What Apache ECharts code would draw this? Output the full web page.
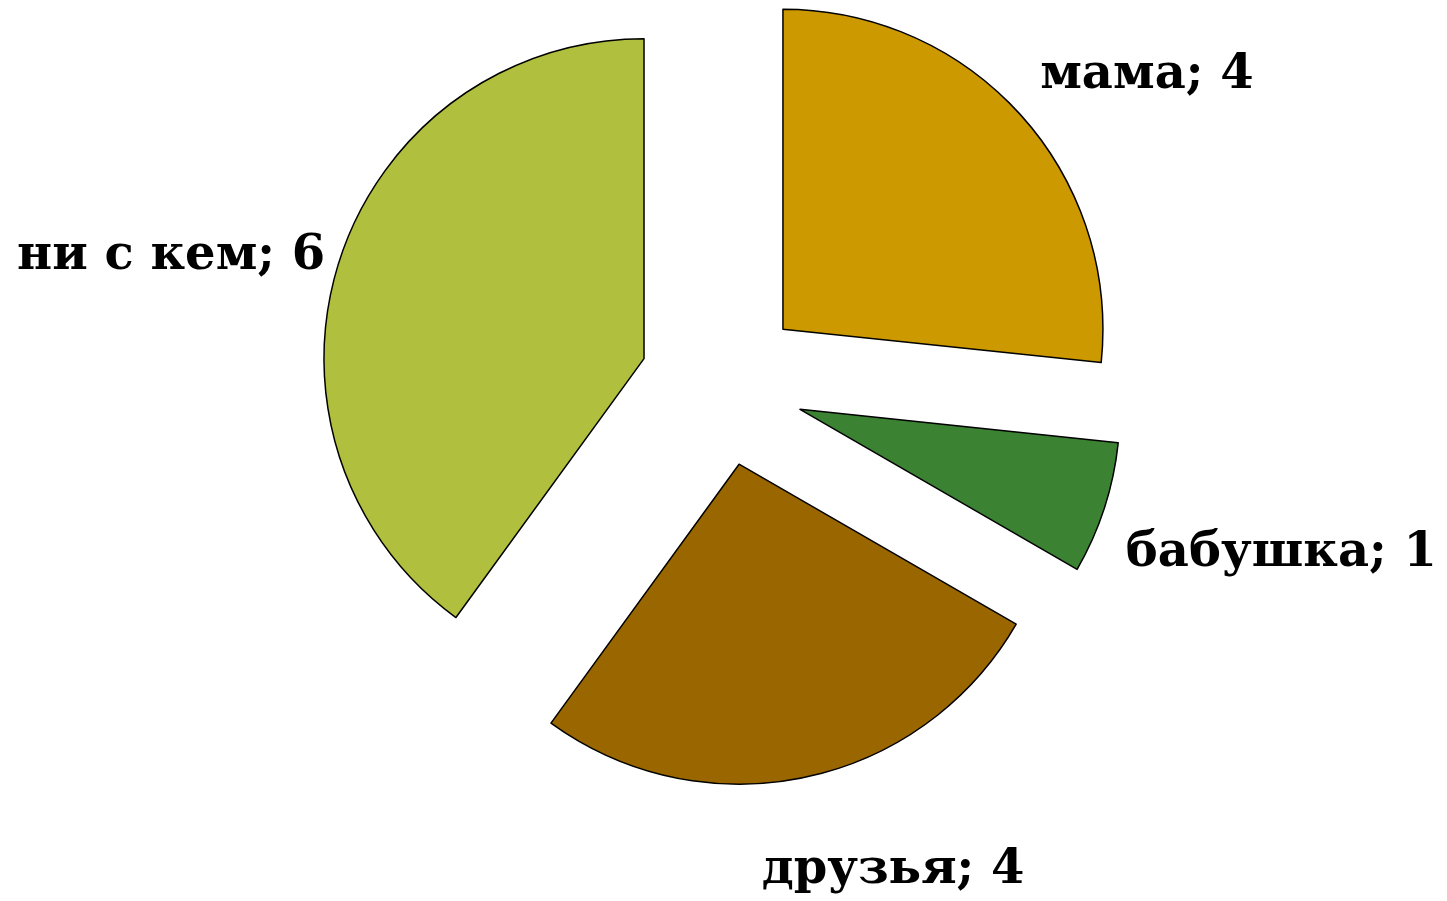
<!DOCTYPE html>
<html>
<head>
<meta charset="utf-8">
<script src="https://cdn.jsdelivr.net/npm/echarts@6/dist/echarts.min.js"></script>
<style>
  html, body { margin: 0; padding: 0; background: #fff; }
  #chart { width: 1447px; height: 901px; }
</style>
</head>
<body>
<div id="chart"></div>
<script>
// данные диаграммы
var categories = ['мама', 'бабушка', 'друзья', 'ни с кем'];
var values = [4, 1, 4, 6];
var colors = ['#CC9900', '#3C8233', '#996600', '#B0BF3D'];

var myChart = echarts.init(document.getElementById('chart'));

// сдвиг подписей относительно стандартного положения
var labelShift = [[7, -33], [7, 42], [-51, 84], [0, 0]];

var pieData = [];
for (var i = 0; i < categories.length; i++) {
    pieData.push({
        name: categories[i],
        value: values[i],
        selected: true,
        itemStyle: { color: colors[i] }
    });
}

var option = {
    animation: false,
    backgroundColor: '#fff',
    series: [{
        type: 'pie',
        center: [722, 384],
        radius: 320,
        startAngle: 90,
        clockwise: true,
        selectedMode: 'multiple',
        selectedOffset: 82,
        avoidLabelOverlap: false,
        itemStyle: {
            borderColor: '#000',
            borderWidth: 1.5
        },
        select: {
            itemStyle: { borderColor: '#000', borderWidth: 1.5 }
        },
        label: {
            position: 'outside',
            formatter: '{b}; {c}',
            color: '#000',
            fontFamily: 'DejaVu Serif',
            fontWeight: 'bold',
            fontSize: 48
        },
        labelLine: {
            show: false,
            length: 10,
            length2: 0
        },
        labelLayout: function (params) {
            var s = labelShift[params.dataIndex];
            return { dx: s[0], dy: s[1] };
        },
        emphasis: { disabled: true },
        data: pieData
    }]
};
myChart.setOption(option);
</script>
</body>
</html>
